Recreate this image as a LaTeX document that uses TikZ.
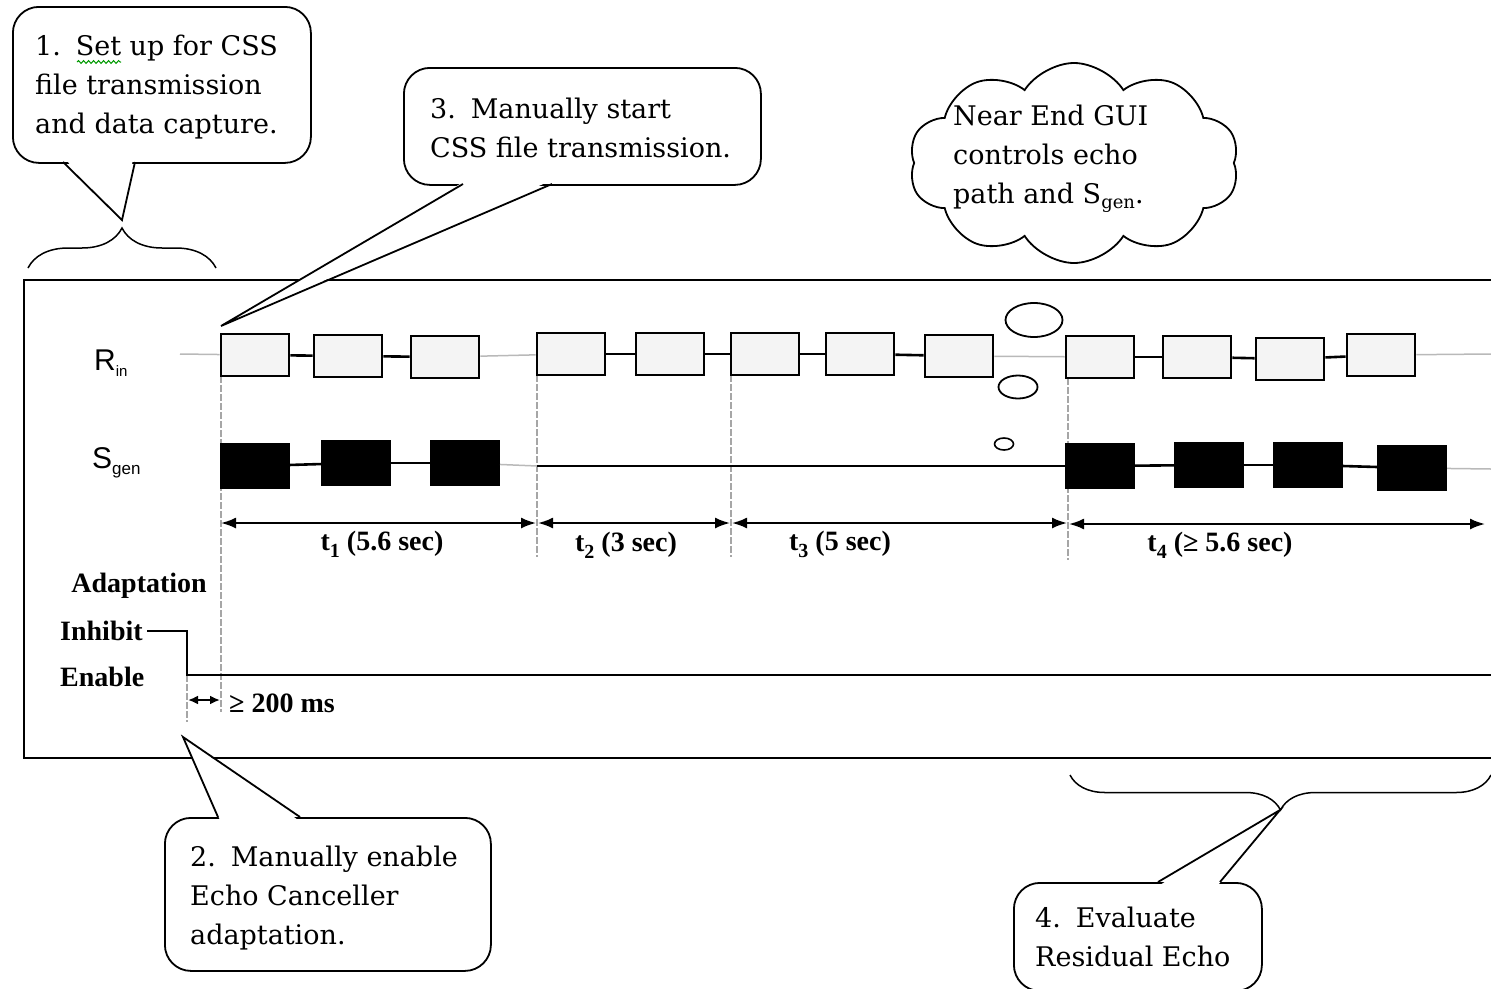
\documentclass[tikz,border=0pt]{standalone}
\usepackage{fontspec}
\setmainfont{DejaVu Serif}
\newfontfamily\timesf{Liberation Serif}
\newfontfamily\arialf{Liberation Sans}
\usetikzlibrary{arrows.meta,shapes.symbols,shapes.geometric,decorations.pathreplacing,decorations.pathmorphing}

\begin{document}
\begin{tikzpicture}[x=1bp,y=-1bp,
  callout/.style={draw, line width=1.8bp, fill=white, rounded corners=26bp, inner sep=0, anchor=north west},
  tail/.style={line width=1.8bp, line join=miter},
  % multi-line texts are placed by the baseline of their last line
  calltext/.style={anchor=base west, align=left, inner sep=0, font=\fontsize{27bp}{39bp}\selectfont},
  rinbox/.style={draw, line width=2.8bp, fill=gray!9, minimum width=68bp, minimum height=42bp, inner sep=0},
  sgenbox/.style={draw, line width=2bp, fill=black, minimum width=68bp, minimum height=44bp, inner sep=0},
  link/.style={line width=2.6bp},
  faint/.style={draw=gray!55, line width=1.5bp},
  marker/.style={draw=gray!70, line width=1.2bp, dash pattern=on 7bp off 2bp},
  span/.style={line width=2bp, {Latex[length=15bp,width=11bp]}-{Latex[length=15bp,width=11bp]}},
  shortspan/.style={line width=2bp, {Latex[length=10bp,width=9bp]}-{Latex[length=10bp,width=9bp]}},
  sig/.style={line width=2bp},
  lbl/.style={font=\timesf\bfseries\fontsize{28bp}{30bp}\selectfont, inner sep=0},
  sans/.style={font=\arialf\fontsize{30bp}{30bp}\selectfont, inner sep=0, anchor=base west},
  brace/.style={line width=1.5bp, decorate}
]
\useasboundingbox (0,0) rectangle (1491,988);

% frame around the timing chart (open on the right)
\draw[line width=2bp] (1491,280) -- (24,280) -- (24,758) -- (1491,758);

% vertical time markers
\draw[marker] (221,376) -- (221,712);
\draw[marker] (537,375) -- (537,557);
\draw[marker] (731,375) -- (731,557);
\draw[marker] (1068,378) -- (1068,560);
\draw[marker] (187,675) -- (187,722);

% R_in bursts
\node[rinbox] (r1) at (255,355) {};
\node[rinbox] (r2) at (348,356) {};
\node[rinbox] (r3) at (445,357) {};
\node[rinbox] (r4) at (571,354) {};
\node[rinbox] (r5) at (670,354) {};
\node[rinbox] (r6) at (765,354) {};
\node[rinbox] (r7) at (860,354) {};
\node[rinbox] (r8) at (959,356) {};
\node[rinbox] (r9) at (1100,357) {};
\node[rinbox] (r10) at (1197,357) {};
\node[rinbox] (r11) at (1290,359) {};
\node[rinbox] (r12) at (1381,355) {};
\coordinate (rinL) at (180,354);
\coordinate (rinR) at (1491,354);
\draw[faint] (rinL) -- (r1);
\draw[faint] (r3) -- (r4);
\draw[faint] (r8) -- (r9);
\draw[faint] (r12) -- (rinR);
\foreach \a/\b in {r1/r2,r2/r3,r4/r5,r5/r6,r6/r7,r7/r8,r9/r10,r10/r11,r11/r12}
  \draw[link] (\a) -- (\b);

% S_gen bursts
\node[sgenbox] (s1) at (255,466) {};
\node[sgenbox] (s2) at (356,463) {};
\node[sgenbox] (s3) at (465,463) {};
\node[sgenbox] (s4) at (1100,466) {};
\node[sgenbox] (s5) at (1209,465) {};
\node[sgenbox] (s6) at (1308,465) {};
\node[sgenbox] (s7) at (1412,468) {};
\coordinate (sgA) at (537,466);
\coordinate (sgR) at (1491,469);
\draw[faint] (s3) -- (sgA);
\draw[link] (sgA) -- (s4);
\draw[faint] (s7) -- (sgR);
\foreach \a/\b in {s1/s2,s2/s3,s4/s5,s5/s6,s6/s7}
  \draw[link] (\a) -- (\b);

% row labels
\node[sans] (rinlbl) at (94,370) {R\raisebox{-6bp}{\fontsize{15bp}{15bp}\selectfont in}};
\node[sans] (sgenlbl) at (92,468) {S\raisebox{-6bp}{\fontsize{17bp}{17bp}\selectfont gen}};

% interval arrows
\coordinate (p1) at (221,523);
\coordinate (p2) at (536,523);
\coordinate (p3) at (538,523);
\coordinate (p4) at (730,523);
\coordinate (p5) at (732,523);
\coordinate (p6) at (1067,523);
\coordinate (p7) at (1069,524);
\coordinate (p8) at (1485,524);
\draw[span] (p1) -- (p2);
\draw[span] (p3) -- (p4);
\draw[span] (p5) -- (p6);
\draw[span] (p7) -- (p8);
\node[lbl, anchor=base] (t1) at (382,550) {t\raisebox{-7bp}{\fontsize{20bp}{20bp}\selectfont 1} (5.6 sec)};
\node[lbl, anchor=base] (t2) at (626,551) {t\raisebox{-7bp}{\fontsize{20bp}{20bp}\selectfont 2} (3 sec)};
\node[lbl, anchor=base] (t3) at (840,550) {t\raisebox{-7bp}{\fontsize{20bp}{20bp}\selectfont 3} (5 sec)};
\node[lbl, anchor=base] (t4) at (1220,551) {t\raisebox{-7bp}{\fontsize{20bp}{20bp}\selectfont 4} (≥ 5.6 sec)};

% adaptation control signal
\node[lbl, anchor=base east] (adlbl) at (207,592) {Adaptation};
\node[lbl, anchor=base west] (inhlbl) at (60,640) {Inhibit};
\node[lbl, anchor=base west] (enlbl) at (60,686) {Enable};
\coordinate (inhA) at (147,631);
\coordinate (inhB) at (187,631);
\coordinate (enA) at (187,675);
\coordinate (enB) at (1491,675);
\draw[sig] (inhA) -- (inhB) -- (enA) -- (enB);
\coordinate (d1) at (188,700);
\coordinate (d2) at (220,700);
\draw[shortspan] (d1) -- (d2);
\node[lbl, anchor=base west] (dlbl) at (229,712) {≥ 200 ms};

% callout 1
\node[callout, minimum width=298bp, minimum height=156bp] (c1) at (12,6) {};
\coordinate (c1a) at (63,162);
\coordinate (c1t) at (122,220);
\coordinate (c1b) at (135,162);
\fill[white] (65,159) -- (c1t) -- (133,159) -- cycle;
\draw[tail] (c1a) -- (c1t) -- (c1b);
\node[calltext] (c1txt) at (35,133) {1.\hspace{0.55em}Set up for CSS\\file transmission\\and data capture.};
\draw[green!60!black, line width=1bp, decorate, decoration={snake, amplitude=1.4bp, segment length=5bp}] (77,62) -- (121,62);
\draw[brace, decoration={brace, amplitude=40bp}] (28,268) -- (216,268);

% callout 3
\node[callout, minimum width=357bp, minimum height=117bp] (c3) at (403,67) {};
\coordinate (c3a) at (463,184);
\coordinate (c3t) at (221,326);
\coordinate (c3b) at (552,184);
\fill[white] (465,181) -- (c3t) -- (550,181) -- cycle;
\draw[tail] (c3a) -- (c3t) -- (c3b);
\node[calltext] (c3txt) at (430,157) {3.\hspace{0.55em}Manually start\\CSS file transmission.};

% callout 2
\node[callout, minimum width=326bp, minimum height=153bp] (c2) at (164,817) {};
\coordinate (c2a) at (218,817);
\coordinate (c2t) at (183,737);
\coordinate (c2b) at (300,817);
\fill[white] (220,820) -- (c2t) -- (298,820) -- cycle;
\draw[tail] (c2a) -- (c2t) -- (c2b);
\node[calltext] (c2txt) at (190,944) {2.\hspace{0.55em}Manually enable\\Echo Canceller\\adaptation.};

% callout 4
\node[callout, minimum width=248bp, minimum height=108bp] (c4) at (1013,882) {};
\coordinate (c4a) at (1158,882);
\coordinate (c4t) at (1280,810);
\coordinate (c4b) at (1220,882);
\fill[white] (1160,885) -- (c4t) -- (1218,885) -- cycle;
\draw[tail] (c4a) -- (c4t) -- (c4b);
\node[calltext] (c4txt) at (1035,966) {4.\hspace{0.55em}Evaluate\\Residual Echo};
\draw[brace, decoration={brace, amplitude=35bp}] (1491,775) -- (1070,775);

% thought cloud
\node[cloud, draw, line width=1.8bp, fill=white, cloud puffs=10, cloud puff arc=115, aspect=1.65,
      minimum width=330bp, minimum height=200bp] (gui) at (1074,163) {};
\node[calltext] (guitxt) at (953,203) {Near End GUI\\controls echo\\path and S\raisebox{-5bp}{\fontsize{18bp}{18bp}\selectfont gen}.};
\node[draw, ellipse, line width=1.8bp, minimum width=57bp, minimum height=34bp, inner sep=0] (b1) at (1034,320) {};
\node[draw, ellipse, line width=1.8bp, minimum width=39bp, minimum height=23bp, inner sep=0] (b2) at (1018,387) {};
\node[draw, ellipse, line width=1.6bp, minimum width=19bp, minimum height=12bp, inner sep=0] (b3) at (1004,444) {};
\end{tikzpicture}
\end{document}
